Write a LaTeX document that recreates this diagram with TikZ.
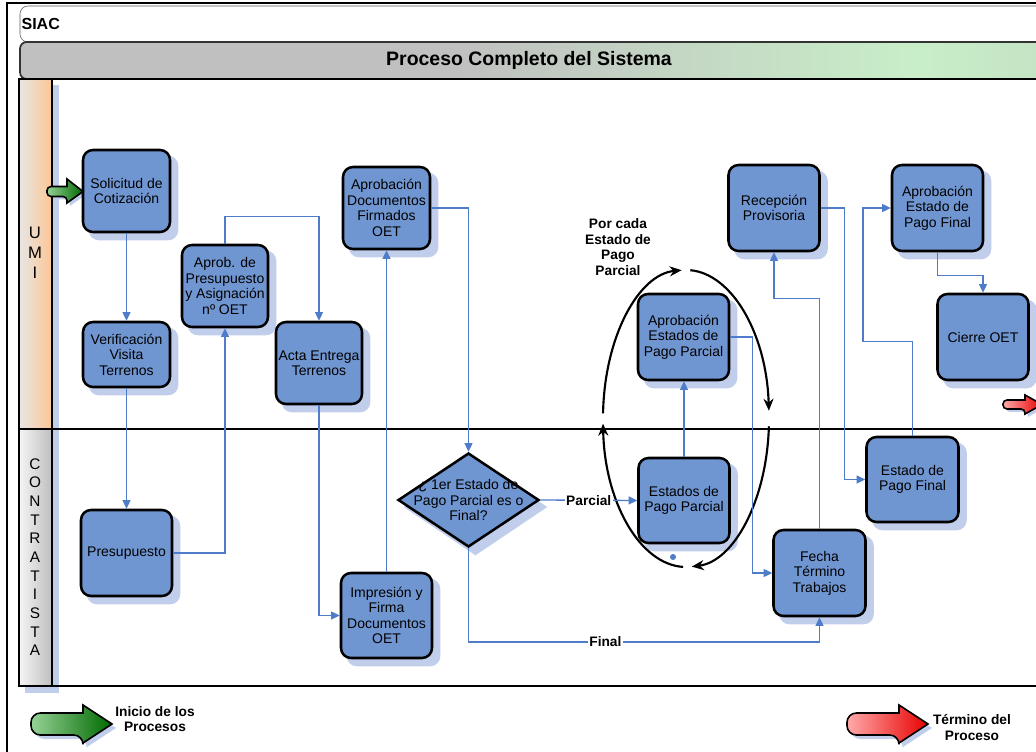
\documentclass[tikz,border=0pt]{standalone}
\usepackage{fontspec}
\setmainfont{Liberation Sans}
\usetikzlibrary{arrows.meta,shapes.geometric}

\definecolor{taskblue}{RGB}{112,150,210}
\definecolor{shadowblue}{RGB}{192,206,235}
\definecolor{flowblue}{RGB}{78,124,200}
\definecolor{umiorange}{RGB}{252,198,148}
\definecolor{hdrlight}{RGB}{232,230,228}
\definecolor{hdrgray}{RGB}{190,190,190}
\definecolor{tbgray}{RGB}{192,192,192}
\definecolor{tbgreen}{RGB}{200,238,200}
\definecolor{tbgreenb}{RGB}{196,226,196}
\definecolor{greenlight}{RGB}{150,210,150}
\definecolor{greendark}{RGB}{0,105,0}
\definecolor{redlight}{RGB}{255,170,170}
\definecolor{reddark}{RGB}{232,0,0}

\pgfdeclarehorizontalshading{titlebar}{100bp}{color(0bp)=(tbgray); color(25bp)=(tbgray); color(46bp)=(tbgray); color(68bp)=(tbgreen); color(75bp)=(tbgreenb); color(100bp)=(tbgreenb)}

\pgfdeclarelayer{shadowlayer}
\pgfsetlayers{shadowlayer,main}

% outlines of the block arrows (start marker, end marker, legend)
\def\startmark{(67,186.5) [rounded corners=3pt] -- (47,186.5) -- (47,196.5) -- (67,196.5) [sharp corners] -- (67,203) -- (83,191.5) -- (67,179) -- cycle}
\def\endmark{(1025,400) [rounded corners=3pt] -- (1003,400) -- (1003,409) -- (1025,409) [sharp corners] -- (1025,414) -- (1042,404.5) -- (1025,395) -- cycle}
\def\startlegend{(83,713) [rounded corners=7pt] -- (31,713) -- (31,735) -- (83,735) [sharp corners] -- (83,743) -- (112,724) -- (83,705) -- cycle}
\def\endlegend{(899,713) [rounded corners=7pt] -- (847,713) -- (847,735) -- (899,735) [sharp corners] -- (899,743) -- (928,724) -- (899,705) -- cycle}

\begin{document}
\begin{tikzpicture}[x=0.75pt,y=-0.75pt,
  boxsize/.style 2 args={minimum width={#1*0.75pt}, minimum height={#2*0.75pt}},
  task/.style={draw=black, line width=1.9pt, fill=taskblue, rounded corners=7.5pt,
    align=center, inner sep=0pt, font=\fontsize{10.5}{11.6}\selectfont},
  decision/.style={draw=black, line width=1.9pt, fill=taskblue, shape=diamond, inner sep=0pt},
  flow/.style={draw=flowblue, line width=1pt, -{Triangle[length=6.5pt,width=6pt]}},
  lab/.style={font=\bfseries\fontsize{10.3}{12}\selectfont, fill=white, inner sep=1pt},
  loopline/.style={line width=1.6pt, -{Stealth[length=9pt,width=7.5pt]}},
  lane/.style={align=center, inner sep=0pt},
  blockarrow/.style={line width=1.2pt, draw=black},
  legend/.style={font=\bfseries\fontsize{10.3}{11.3}\selectfont, align=center}]

\useasboundingbox (0,0) rectangle (1036,752);
\clip (0,0) rectangle (1036,752);

\begin{pgfonlayer}{shadowlayer}
\clip (0,0) rectangle (1036,752);
\fill[white] (0,0) rectangle (1036,752);
% outer frame
\draw[line width=1.6pt] (7,760) -- (7,3) -- (1045,3);
% page header and title bar
\draw[draw=black!65, fill=white, rounded corners=6pt] (20,6) rectangle (1060,42);
\shadedraw[shading=titlebar, draw=black!80, line width=1.3pt, rounded corners=5pt] (20,42) rectangle (1060,79);
% soft shadow of the lane headers
\fill[shadowblue] (25,85) rectangle (59,693);
\end{pgfonlayer}

\node[anchor=west, font=\bfseries\fontsize{12}{14}\selectfont, inner sep=1pt] (siac) at (20,24) {SIAC};
\node[font=\bfseries\fontsize{14.6}{17}\selectfont] (title) at (529,60) {Proceso Completo del Sistema};

% swimlane headers
\shade[left color=hdrlight, right color=umiorange] (19,79) rectangle (52,429);
\shade[left color=white!92!gray, right color=hdrgray] (19,429) rectangle (52,686);
\node[lane, font=\fontsize{12.5}{15}\selectfont] (umi) at (35,253) {U\\M\\I};
\node[lane, font=\fontsize{11.5}{14}\selectfont] (contra) at (35,557) {C\\O\\N\\T\\R\\A\\T\\I\\S\\T\\A};

% pool outline and lane divider
\draw[line width=1.6pt] (19,79) rectangle (1060,686);
\draw[line width=2pt] (19,429) -- (1060,429);
\draw[line width=1.6pt] (52,79) -- (52,686);

% loop around the partial payment steps
\coordinate (lc) at (686,418.5);
\draw[loopline] (lc) ++(92:83 and 148.5) arc[start angle=92, end angle=178, x radius=83, y radius=148.5];
\draw[loopline] (lc) ++(182:83 and 148.5) arc[start angle=182, end angle=267, x radius=83, y radius=148.5];
\draw[loopline] (lc) ++(273:83 and 148.5) arc[start angle=273, end angle=357, x radius=83, y radius=148.5];
\draw[loopline] (lc) ++(3:83 and 148.5) arc[start angle=3, end angle=86, x radius=83, y radius=148.5];
\fill[flowblue] (673,557) circle[radius=3];
\node[font=\bfseries\fontsize{10.3}{11.8}\selectfont, align=center] (loopnote) at (618,247) {Por cada\\Estado de\\Pago\\Parcial};

% process steps
\node[task, boxsize={87}{82}] (sol)  at (126.5,191)   {Solicitud de\\Cotización};
\node[task, boxsize={87}{65}] (ver)  at (126.5,354.5) {Verificación\\Visita\\Terrenos};
\node[task, boxsize={91}{86}] (pre)  at (126.5,553)   {Presupuesto};
\node[task, boxsize={86}{82}] (apr)  at (225,286)     {Aprob. de\\Presupuesto\\y Asignación\\nº OET};
\node[task, boxsize={86}{82}] (act)  at (319,363)     {Acta Entrega\\Terrenos};
\node[task, boxsize={87}{82}] (doc)  at (386.5,208)   {Aprobación\\Documentos\\Firmados\\OET};
\node[task, boxsize={91}{85}] (imp)  at (386.5,615.5) {Impresión y\\Firma\\Documentos\\OET};
\node[decision, minimum width={141*0.75pt}, minimum height={94*0.75pt}] (dia) at (468.5,500) {};
\node[align=center, font=\fontsize{10.5}{11.6}\selectfont] (diatext) at (dia.center) {¿ 1er Estado de\\Pago Parcial es o\\Final?};
\node[task, boxsize={91}{85}] (epp)  at (684,500.5)   {Estados de\\Pago Parcial};
\node[task, boxsize={91}{86}] (aepp) at (683.5,337)   {Aprobación\\Estados de\\Pago Parcial};
\node[task, boxsize={91}{86}] (rec)  at (774,208)     {Recepción\\Provisoria};
\node[task, boxsize={92}{86}] (fec)  at (819.5,573)   {Fecha\\Término\\Trabajos};
\node[task, boxsize={92}{85}] (epf)  at (912.5,479.5) {Estado de\\Pago Final};
\node[task, boxsize={91}{86}] (aepf) at (937.5,208)   {Aprobación\\Estado de\\Pago Final};
\node[task, boxsize={91}{86}] (cie)  at (983,337)     {Cierre OET};

% soft shadows behind the steps
\begin{pgfonlayer}{shadowlayer}
\clip (0,0) rectangle (1036,752);
\foreach \n in {sol,ver,pre,apr,act,doc,imp,epp,aepp,rec,fec,epf,aepf,cie}
  \fill[shadowblue, rounded corners=7.5pt] ([shift={(7,7)}]\n.south west) rectangle ([shift={(7,7)}]\n.north east);
\fill[shadowblue] ([shift={(7,7)}]dia.north) -- ([shift={(7,7)}]dia.east) -- ([shift={(7,7)}]dia.south) -- ([shift={(7,7)}]dia.west) -- cycle;
\fill[shadowblue, shift={(3,3)}] \startmark;
\fill[shadowblue, shift={(3,3)}] \endmark;
\fill[shadowblue, shift={(4,4)}] \startlegend;
\fill[shadowblue, shift={(4,4)}] \endlegend;
\end{pgfonlayer}

% connectors
\draw[flow] (sol) -- (ver);
\draw[flow] (ver) -- (pre);
\draw[flow] (pre.east) -| (apr.south);
\draw[flow] (apr.north) -- ++(0,-27) -| (act.north);
\draw[flow] (act.south) |- (imp.west);
\draw[flow] (imp.north) -- (doc.south);
\draw[flow] (doc.east) -| (dia.north);
\draw[flow] (dia.east) -- node[lab] {Parcial} (epp.west);
\coordinate (finalbend) at (468.5,642);
\draw[flow] (dia.south) -- (finalbend) -- node[lab, pos=0.39] {Final} (finalbend -| fec.south) -- (fec.south);
\draw[flow] (epp.north) -- (epp.north |- aepp.south);
\draw[flow] (aepp.east) -- ++(22.5,0) |- (fec.west);
\draw[flow] (fec.north) -- ++(0,-230) -| (rec.south);
\draw[flow] (rec.east) -- ++(24,0) |- (epf.west);
\draw[flow] (epf.north) -- ++(0,-94) -- ++(-49.5,0) |- (aepf.west);
\draw[flow] (aepf.south) -- ++(0,23) -| (cie.north);

% start and end markers
\draw[blockarrow, left color=greenlight, right color=greendark] \startmark;
\draw[blockarrow, left color=redlight, right color=reddark] \endmark;

% legend
\draw[blockarrow, left color=greenlight, right color=greendark] \startlegend;
\node[legend] (startlabel) at (155,719.5) {Inicio de los\\Procesos};
\draw[blockarrow, left color=redlight, right color=reddark] \endlegend;
\node[legend] (endlabel) at (972,727.5) {Término del\\Proceso};

\end{tikzpicture}
\end{document}
